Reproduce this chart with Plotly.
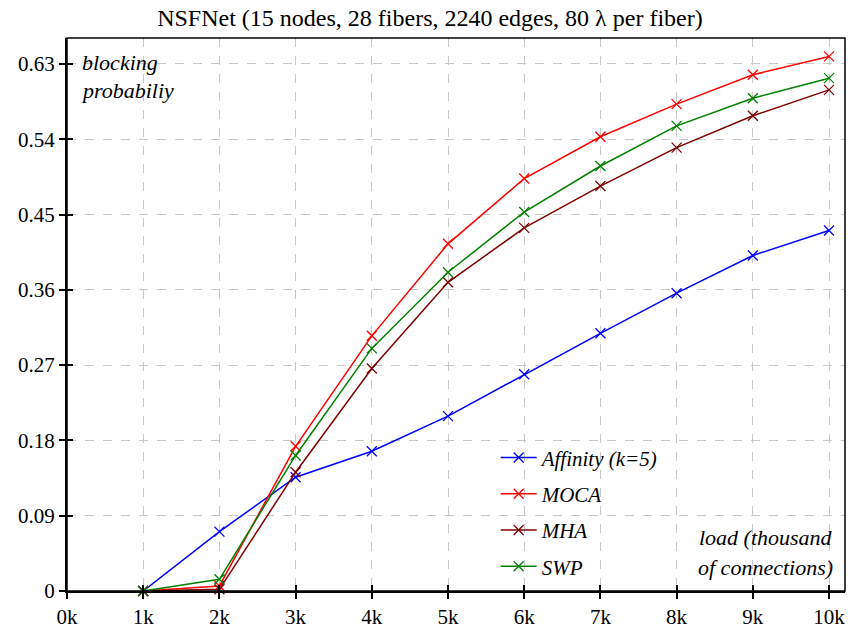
import plotly.graph_objects as go

# load in thousands of connections
load_k = [1, 2, 3, 4, 5, 6, 7, 8, 9, 10]

affinity = [0.0, 0.071, 0.136, 0.167, 0.209, 0.259, 0.308, 0.356, 0.401, 0.431]
moca = [0.0, 0.006, 0.173, 0.305, 0.415, 0.493, 0.543, 0.582, 0.617, 0.639]
mha = [0.0, 0.002, 0.142, 0.266, 0.369, 0.434, 0.484, 0.530, 0.568, 0.599]
swp = [0.0, 0.014, 0.162, 0.290, 0.381, 0.453, 0.508, 0.556, 0.589, 0.613]

series_names = ["Affinity (k=5)", "MOCA", "MHA", "SWP"]
series_values = [affinity, moca, mha, swp]
series_colors = ["#0000ff", "#ff0000", "#800000", "#008000"]

x_tickvals = list(range(0, 11))
x_ticktext = [f"{v}k" for v in x_tickvals]
y_tickvals = [0, 0.09, 0.18, 0.27, 0.36, 0.45, 0.54, 0.63]
y_ticktext = ["0", "0.09", "0.18", "0.27", "0.36", "0.45", "0.54", "0.63"]

X_RANGE = [0, 10.21]
Y_RANGE = [0, 0.661]
SERIF = "Liberation Serif, Times New Roman, serif"

fig = go.Figure()
for i, (name, vals, col) in enumerate(zip(series_names, series_values, series_colors)):
    fig.add_trace(go.Scatter(
        x=load_k, y=vals, name=name, mode="lines+markers",
        line=dict(color=col, width=1.5),
        marker=dict(symbol="x-thin", size=10, line=dict(color=col, width=1.3)),
        legendgroup=f"g{i}", cliponaxis=False,
    ))

# invisible trace so the overlay axes (inner tick halves) get drawn
fig.add_trace(go.Scatter(x=[0], y=[0], xaxis="x2", yaxis="y2", mode="markers",
                         marker=dict(opacity=0), showlegend=False, hoverinfo="skip"))

axis_font = dict(family=SERIF, size=21, color="#000")
fig.update_layout(
    width=848, height=628,
    margin=dict(l=67, r=3, t=38, b=37, autoexpand=False),
    paper_bgcolor="white", plot_bgcolor="white",
    title=dict(text="NSFNet (15 nodes, 28 fibers, 2240 edges, 80 λ per fiber)",
               x=0.507, xanchor="center", y=0.972, yanchor="middle",
               font=dict(family=SERIF, size=24, color="#000")),
    xaxis=dict(range=X_RANGE, tickvals=x_tickvals, ticktext=x_ticktext,
               showgrid=True, gridcolor="#c8c8c8", griddash="dash", gridwidth=1.2,
               showline=True, linecolor="#000", linewidth=2,
               ticks="outside", ticklen=6, tickwidth=2, tickcolor="#000",
               tickfont=axis_font, zeroline=False, automargin=False),
    yaxis=dict(range=Y_RANGE, tickvals=y_tickvals, ticktext=y_ticktext,
               showgrid=True, gridcolor="#c8c8c8", griddash="dash", gridwidth=1.2,
               showline=True, linecolor="#000", linewidth=2,
               ticks="outside", ticklen=6, tickwidth=2, tickcolor="#000",
               tickfont=axis_font, zeroline=False, automargin=False),
    xaxis2=dict(range=X_RANGE, tickvals=x_tickvals, overlaying="x", showticklabels=False,
                ticks="inside", ticklen=6, tickwidth=2, tickcolor="#000",
                showgrid=False, zeroline=False, showline=False, automargin=False),
    yaxis2=dict(range=Y_RANGE, tickvals=y_tickvals, overlaying="y", showticklabels=False,
                ticks="inside", ticklen=6, tickwidth=2, tickcolor="#000",
                showgrid=False, zeroline=False, showline=False, automargin=False),
    legend=dict(x=0.551, xanchor="left", y=0.278, yanchor="top",
                bgcolor="rgba(0,0,0,0)", traceorder="grouped", tracegroupgap=6,
                font=dict(family=SERIF, size=21, color="#000", style="italic"),
                itemwidth=36),
    showlegend=True,
)

# top and right frame edges
fig.add_shape(type="rect", xref="paper", yref="paper", x0=0, y0=0, x1=1, y1=1,
              line=dict(color="#000", width=1.5), layer="above")

note_font = dict(family=SERIF, size=22, color="#000", style="italic")
fig.add_annotation(text="blocking", xref="paper", yref="paper", x=0.017, y=0.955,
                   xanchor="left", yanchor="middle", showarrow=False, font=note_font)
fig.add_annotation(text="probabiliy", xref="paper", yref="paper", x=0.015, y=0.905,
                   xanchor="left", yanchor="middle", showarrow=False, font=note_font)
fig.add_annotation(text="load (thousand", xref="paper", yref="paper", x=0.987, y=0.096,
                   xanchor="right", yanchor="middle", showarrow=False, font=note_font)
fig.add_annotation(text="of connections)", xref="paper", yref="paper", x=0.987, y=0.043,
                   xanchor="right", yanchor="middle", showarrow=False, font=note_font)

fig.write_html("out.html")
